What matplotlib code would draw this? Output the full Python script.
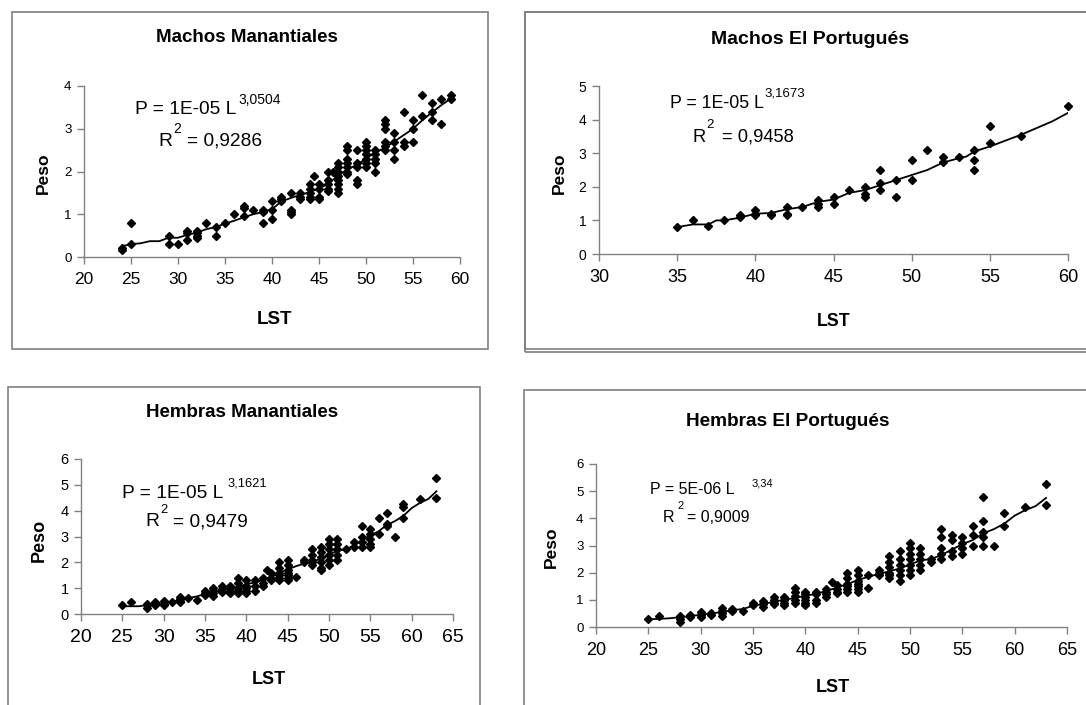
import matplotlib
matplotlib.use("Agg")
import matplotlib.pyplot as plt
from matplotlib.patches import Rectangle

plt.rcParams["font.family"] = ["Liberation Sans", "DejaVu Sans"]

W, H = 1086, 705

# ---- data: (LST, [Peso values]) ----
mm_groups = [
    (24, [0.2, 0.17]), (25, [0.8, 0.3]), (29, [0.5, 0.3]), (30, [0.3]),
    (31, [0.6, 0.4, 0.55]), (32, [0.6, 0.5, 0.45, 0.55]), (33, [0.8]),
    (34, [0.7, 0.5]), (35, [0.8]), (36, [1.0]), (37, [1.2, 1.15, 0.95]),
    (38, [1.1]), (39, [1.1, 0.8, 1.05]), (40, [1.3, 1.1, 0.9]),
    (41, [1.4, 1.3, 1.35]), (42, [1.5, 1.1, 1.0, 1.05]), (43, [1.5, 1.4, 1.35]),
    (44, [1.7, 1.6, 1.5, 1.4, 1.35]), (44.5, [1.9]), (45, [1.7, 1.6, 1.4, 1.35]),
    (46, [2.0, 1.8, 1.7, 1.6, 1.55]), (46.5, [2.0]),
    (47, [2.2, 2.1, 2.0, 1.9, 1.8, 1.7, 1.6, 1.5]),
    (48, [2.6, 2.5, 2.3, 2.2, 2.1, 2.0, 1.95]), (49, [2.5, 2.2, 2.1, 1.8, 1.7]),
    (50, [2.7, 2.6, 2.5, 2.4, 2.3, 2.2, 2.1]), (51, [2.5, 2.4, 2.3, 2.2, 2.0]),
    (52, [3.2, 3.1, 3.0, 2.7, 2.6, 2.5]), (53, [2.9, 2.7, 2.5, 2.3]),
    (54, [3.4, 2.7, 2.6]), (55, [3.2, 3.0, 2.7]), (56, [3.8, 3.3]),
    (57, [3.6, 3.4, 3.2]), (58, [3.7, 3.1]), (59, [3.8, 3.7]),
]
mm_line_x = [24, 25, 26, 27, 28, 29, 30, 31, 32, 33, 34, 35, 36, 37, 38, 39, 40, 41,
             42, 43, 44, 45, 46, 47, 48, 49, 50, 51, 52, 53, 54, 55, 56, 57, 58, 59]
mm_line_y = [0.25, 0.3, 0.32, 0.37, 0.37, 0.45, 0.45, 0.52, 0.57, 0.65, 0.7, 0.78,
             0.85, 0.93, 1.0, 1.05, 1.12, 1.3, 1.38, 1.45, 1.52, 1.6, 1.72, 1.9, 2.05,
             2.15, 2.3, 2.45, 2.55, 2.7, 2.85, 3.0, 3.2, 3.38, 3.55, 3.7]

mp_groups = [
    (35, [0.8]), (36, [1.0]), (37, [0.82]), (38, [1.0]), (39, [1.1, 1.15]),
    (40, [1.2, 1.3, 1.15]), (41, [1.15, 1.2]), (42, [1.2, 1.4, 1.15]), (43, [1.4]),
    (44, [1.5, 1.4, 1.6]), (45, [1.5, 1.7]), (46, [1.9]), (47, [1.7, 1.8, 2.0]),
    (48, [2.5, 2.1, 1.9]), (49, [2.2, 1.7]), (50, [2.8, 2.2]), (51, [3.1]),
    (52, [2.9, 2.75]), (53, [2.9]), (54, [3.1, 2.8, 2.5]), (55, [3.8, 3.3]),
    (57, [3.5]), (60, [4.4]),
]
mp_line_x = [35, 36, 37, 37.5, 38, 39, 40, 41, 42, 43, 44, 45, 46, 47, 48, 49, 50,
             51, 52, 53, 53.5, 54, 55, 57, 58, 59, 60]
mp_line_y = [0.8, 0.88, 0.88, 1.0, 1.0, 1.08, 1.2, 1.22, 1.33, 1.4, 1.55, 1.62, 1.82,
             1.9, 2.05, 2.2, 2.35, 2.5, 2.72, 2.85, 2.9, 3.05, 3.2, 3.55, 3.75, 3.95, 4.2]

hm_groups = [
    (25, [0.33]), (26, [0.45]), (28, [0.4, 0.25, 0.35]), (29, [0.35, 0.45, 0.4]),
    (30, [0.5, 0.4, 0.35]), (31, [0.45]), (32, [0.6, 0.5, 0.65, 0.45]), (33, [0.62]),
    (34, [0.55]), (35, [0.9, 0.8, 0.75]), (36, [1.0, 0.9, 0.8, 0.7]),
    (37, [1.1, 0.95, 0.85]), (38, [1.1, 1.0, 0.9, 0.8]), (39, [1.4, 1.2, 1.0, 0.9, 0.8]),
    (40, [1.3, 1.1, 1.0, 0.9, 0.8]), (41, [1.3, 1.1, 0.9]), (42, [1.4, 1.2, 1.1]),
    (42.5, [1.7]), (43, [1.6, 1.4, 1.3]), (44, [2.0, 1.8, 1.6, 1.5, 1.4, 1.3]),
    (45, [2.1, 1.9, 1.7, 1.6, 1.5, 1.4, 1.3]), (46, [1.45]), (47, [2.1, 2.0]),
    (48, [2.5, 2.3, 2.1, 2.0, 1.9]), (49, [2.6, 2.4, 2.2, 2.0, 1.8, 1.7]),
    (50, [2.9, 2.7, 2.5, 2.3, 2.1, 1.9]), (51, [2.9, 2.7, 2.5, 2.3, 2.1]), (52, [2.5]),
    (53, [2.8, 2.6]), (54, [3.4, 3.0, 2.8, 2.6]), (55, [3.3, 3.1, 2.9, 2.7, 2.6]),
    (56, [3.7, 3.1]), (57, [3.9, 3.5, 3.4]), (58, [3.0]), (59, [4.25, 4.15, 3.7]),
    (61, [4.45]), (63, [5.25, 4.5]),
]
hm_line_x = [25, 26, 27, 28, 29, 30, 31, 32, 33, 34, 35, 36, 37, 38, 39, 40, 41, 42, 43,
             44, 45, 46, 47, 48, 49, 50, 51, 52, 53, 54, 55, 56, 57, 58, 59, 60, 61, 62, 63]
hm_line_y = [0.3, 0.3, 0.3, 0.35, 0.38, 0.42, 0.48, 0.55, 0.62, 0.68, 0.78, 0.85, 0.92,
             1.0, 1.05, 1.15, 1.22, 1.32, 1.45, 1.6, 1.72, 1.85, 1.95, 2.0, 2.15, 2.3,
             2.45, 2.5, 2.65, 2.85, 3.05, 3.2, 3.45, 3.6, 3.8, 4.1, 4.3, 4.45, 4.75]

hp_groups = [
    (25, [0.3]), (26, [0.42]), (28, [0.4, 0.2, 0.3]), (29, [0.35, 0.45]),
    (30, [0.55, 0.45, 0.35]), (31, [0.45, 0.5]), (32, [0.7, 0.6, 0.5, 0.4]),
    (33, [0.65, 0.6]), (34, [0.6]), (35, [0.9, 0.8]), (36, [0.95, 0.85, 0.75]),
    (37, [1.1, 1.0, 0.9, 0.85]), (38, [1.1, 1.0, 0.9, 0.8]),
    (39, [1.45, 1.3, 1.15, 1.0, 0.9]), (40, [1.3, 1.2, 1.1, 1.0, 0.9, 0.8]),
    (41, [1.3, 1.2, 1.0, 0.9]), (42, [1.4, 1.3, 1.2, 1.1]), (42.5, [1.65]),
    (43, [1.55, 1.4, 1.3, 1.25]), (44, [2.0, 1.8, 1.6, 1.5, 1.4, 1.3]),
    (45, [2.1, 1.9, 1.7, 1.6, 1.5, 1.4, 1.3]), (46, [1.9, 1.45]), (47, [2.1, 2.0, 1.9]),
    (48, [2.6, 2.4, 2.2, 2.0, 1.9, 1.8]), (49, [2.8, 2.5, 2.3, 2.1, 1.9, 1.7]),
    (50, [3.1, 2.9, 2.7, 2.5, 2.3, 2.1, 1.9]), (51, [2.9, 2.7, 2.5, 2.3, 2.1]),
    (52, [2.5, 2.4]), (53, [3.6, 3.3, 2.9, 2.7, 2.5]), (54, [3.4, 3.2, 2.8, 2.6]),
    (55, [3.3, 3.1, 2.9, 2.7]), (56, [3.7, 3.4, 3.0]), (57, [4.8, 3.9, 3.5, 3.3, 3.0]),
    (58, [3.0]), (59, [4.2, 3.7]), (61, [4.4]), (63, [5.25, 4.5]),
]
hp_line_x = hm_line_x
hp_line_y = [0.28, 0.3, 0.32, 0.36, 0.4, 0.45, 0.5, 0.55, 0.62, 0.66, 0.78, 0.85, 0.93,
             1.0, 1.07, 1.15, 1.22, 1.32, 1.45, 1.58, 1.72, 1.85, 1.95, 2.05, 2.15, 2.3,
             2.45, 2.5, 2.65, 2.85, 3.05, 3.2, 3.45, 3.6, 3.8, 4.1, 4.3, 4.45, 4.75]


def expand(groups):
    xs, ys = [], []
    for lst, vals in groups:
        for v in vals:
            xs.append(lst)
            ys.append(v)
    return xs, ys


fig = plt.figure(figsize=(W / 100, H / 100), dpi=100)


def fx(px):
    return px / W


def fy(py):
    return 1 - py / H


def frame(x0, y0, x1, y1):
    fig.patches.append(Rectangle((fx(x0), fy(y1)), fx(x1 - x0), (y1 - y0) / H,
                                 transform=fig.transFigure, fill=False,
                                 edgecolor="#7f7f7f", linewidth=1.2))


# frames round each chart
frame(12, 12, 488, 349)
frame(525, 12, 1095, 349)
frame(525, 12, 1095, 352)
frame(8, 387, 480, 720)
frame(524, 390, 1095, 720)

panels = [
    dict(g=mm_groups, lx=mm_line_x, ly=mm_line_y, box=(84, 86, 460, 257),
         xlim=(20, 60), xt=range(20, 61, 5), ylim=(0, 4), yt=range(0, 5),
         title="Machos Manantiales", tpos=(247, 37), tfs=13.5,
         eq="P = 1E-05 L", exp="3,0504", efs=13.8, sfs=10, eqpos=(135, 109), exppos=(238, 100),
         r2="0,9286", rfs=13.8, r2pos=(158, 141), r2off=(15, 29),
         xfs=12.5, yfs=9.5, lst=(274, 319), lfs=13.5, peso=(43, 173), pfs=12.5),
    dict(g=mp_groups, lx=mp_line_x, ly=mp_line_y, box=(599, 86, 1068, 254),
         xlim=(30, 60), xt=range(30, 61, 5), ylim=(0, 5), yt=range(0, 6),
         title="Machos El Portugués", tpos=(810, 39), tfs=14,
         eq="P = 1E-05 L", exp="3,1673", efs=12.8, sfs=9.5, eqpos=(670, 104), exppos=(764, 94),
         r2="0,9458", rfs=13.2, r2pos=(692, 137), r2off=(14, 30),
         xfs=13, yfs=10, lst=(834, 322), lfs=12.8, peso=(559, 173), pfs=12.5),
    dict(g=hm_groups, lx=hm_line_x, ly=hm_line_y, box=(81, 459, 453, 614),
         xlim=(20, 65), xt=range(20, 66, 5), ylim=(0, 6), yt=range(0, 7),
         title="Hembras Manantiales", tpos=(242, 413), tfs=13.5,
         eq="P = 1E-05 L", exp="3,1621", efs=13.8, sfs=9.3, eqpos=(122, 493), exppos=(228, 484),
         r2="0,9479", rfs=13.8, r2pos=(145, 522), r2off=(15, 28),
         xfs=14, yfs=10.5, lst=(269, 680), lfs=13, peso=(39, 540), pfs=13),
    dict(g=hp_groups, lx=hp_line_x, ly=hp_line_y, box=(596, 464, 1067, 627),
         xlim=(20, 65), xt=range(20, 66, 5), ylim=(0, 6), yt=range(0, 7),
         title="Hembras El Portugués", tpos=(788, 422), tfs=13.7,
         eq="P = 5E-06 L", exp="3,34", efs=11.5, sfs=8, eqpos=(650, 489), exppos=(752, 484),
         r2="0,9009", rfs=11.5, r2pos=(663, 518), r2off=(14, 24),
         xfs=13, yfs=9.5, lst=(833, 688), lfs=13, peso=(551, 547), pfs=12.5),
]

for p in panels:
    x0, y0, x1, y1 = p["box"]
    ax = fig.add_axes([fx(x0), fy(y1), fx(x1 - x0), (y1 - y0) / H])
    xs, ys = expand(p["g"])
    ax.plot(p["lx"], p["ly"], color="black", linewidth=1.3, zorder=2)
    ax.plot(xs, ys, linestyle="none", marker="D", markersize=4.3,
            color="black", zorder=3, clip_on=False)
    ax.set_xlim(*p["xlim"])
    ax.set_ylim(*p["ylim"])
    ax.set_xticks(list(p["xt"]))
    ax.set_yticks(list(p["yt"]))
    for s in ("top", "right"):
        ax.spines[s].set_visible(False)
    for s in ("left", "bottom"):
        ax.spines[s].set_color("#808080")
        ax.spines[s].set_linewidth(1.0)
    ax.tick_params(axis="both", direction="out", color="#808080", length=5, width=1.0)
    ax.tick_params(axis="x", labelsize=p["xfs"], pad=6)
    ax.tick_params(axis="y", labelsize=p["yfs"], pad=4)
    ax.patch.set_alpha(0)

    fig.text(fx(p["tpos"][0]), fy(p["tpos"][1]), p["title"], ha="center", va="center",
             fontsize=p["tfs"], fontweight="bold")
    fig.text(fx(p["lst"][0]), fy(p["lst"][1]), "LST", ha="center", va="center",
             fontsize=p["lfs"], fontweight="bold")
    fig.text(fx(p["peso"][0]), fy(p["peso"][1]), "Peso", ha="center", va="center",
             fontsize=p["pfs"], fontweight="bold", rotation=90)
    fig.text(fx(p["eqpos"][0]), fy(p["eqpos"][1]), p["eq"], ha="left", va="center",
             fontsize=p["efs"])
    fig.text(fx(p["exppos"][0]), fy(p["exppos"][1]), p["exp"], ha="left", va="center",
             fontsize=p["sfs"])
    rx, ry = p["r2pos"]
    dx2, dxe = p["r2off"]
    fig.text(fx(rx), fy(ry), "R", ha="left", va="center", fontsize=p["rfs"])
    fig.text(fx(rx + dx2), fy(ry - 12), "2", ha="left", va="center", fontsize=p["sfs"])
    fig.text(fx(rx + dxe), fy(ry), "= " + p["r2"], ha="left", va="center",
             fontsize=p["rfs"])

fig.savefig("out.png", dpi=100)
